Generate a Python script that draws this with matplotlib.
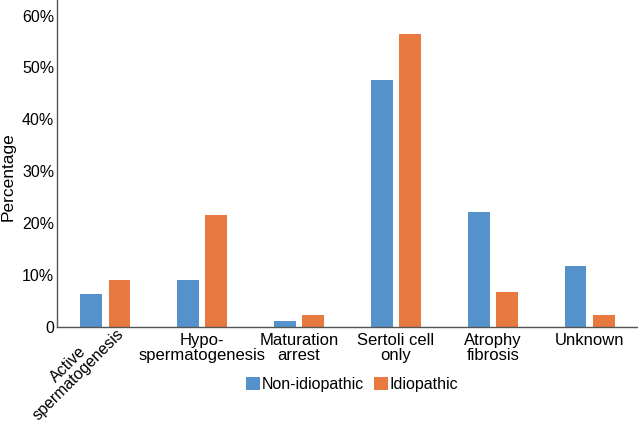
import matplotlib
matplotlib.use("Agg")
import matplotlib.pyplot as plt
import matplotlib.transforms as mtransforms
import numpy as np

plt.rcParams['font.family'] = ['Liberation Sans', 'DejaVu Sans']

categories = ["Active\nspermatogenesis", "Hypo-\nspermatogenesis", "Maturation\narrest",
              "Sertoli cell\nonly", "Atrophy\nfibrosis", "Unknown"]
non_idiopathic = [6.4, 9.1, 1.2, 47.5, 22.2, 11.8]
idiopathic = [9.1, 21.6, 2.3, 56.4, 6.8, 2.3]
yticks = [0, 10, 20, 30, 40, 50, 60]
ytick_labels = ["0", "10%", "20%", "30%", "40%", "50%", "60%"]

blue = "#5592CC"
orange = "#E87A40"

fig = plt.figure(figsize=(6.38, 4.23), dpi=100)
ax = fig.add_axes([0.0893, 0.227, 0.9107, 0.773])

x = np.arange(len(categories))
w = 0.225
ax.bar(x - 0.145, non_idiopathic, w, color=blue, label="Non-idiopathic")
ax.bar(x + 0.145, idiopathic, w, color=orange, label="Idiopathic")

ax.set_xlim(-0.5, 5.5)
ax.set_ylim(0, 63)
ax.set_yticks(yticks)
ax.set_yticklabels(ytick_labels, fontsize=11.5)
ax.set_xticks(x)
# first category is drawn rotated by hand below
ax.set_xticklabels([""] + categories[1:], fontsize=12, linespacing=1.0)
ax.tick_params(length=0, pad=4)
ax.tick_params(axis='y', pad=2)

trans = mtransforms.blended_transform_factory(ax.transData, ax.transAxes)
ax.text(x[0] + 0.22, -0.03, categories[0], transform=trans, rotation=45,
        rotation_mode='anchor', ha='right', va='bottom', multialignment='center',
        fontsize=11.5, linespacing=0.95, clip_on=False)

for s in ['top', 'right']:
    ax.spines[s].set_visible(False)
for s in ['left', 'bottom']:
    ax.spines[s].set_color('#555555')
    ax.spines[s].set_linewidth(1.0)

ax.set_ylabel("Percentage", fontsize=12.5)
ax.yaxis.set_label_coords(-0.072, 0.459)

fig.legend(loc='center', bbox_to_anchor=(0.552, 0.092), ncol=2, frameon=False,
           fontsize=11.5, handlelength=0.9, handleheight=0.9, handletextpad=0.1,
           columnspacing=0.6)

fig.savefig("out.png", dpi=100)
